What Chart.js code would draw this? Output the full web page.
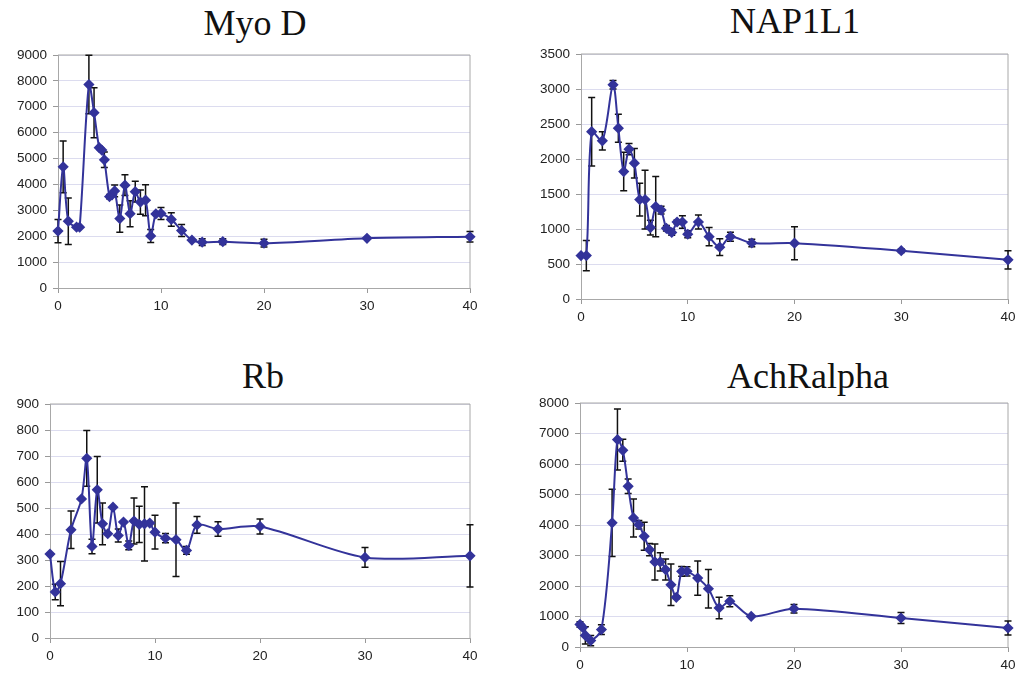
<!DOCTYPE html>
<html lang="en">
<head>
<meta charset="UTF-8" />
<title>Myo D, NAP1L1, Rb, AchRalpha</title>
<script src="https://cdn.jsdelivr.net/npm/chart.js"></script>
<style>
  html, body { margin: 0; padding: 0; background: #fff; overflow: hidden; }
  body { width: 1017px; height: 677px; position: relative; }
  canvas { position: absolute; }
  .title {
    position: absolute; transform: translateX(-50%);
    font: 36px "Liberation Serif", "Times New Roman", serif;
    line-height: 36px; color: #111; white-space: nowrap;
  }
</style>
</head>
<body>

<div class="title" style="left:255px; top:5px">Myo D</div>
<div class="title" style="left:795px; top:3px">NAP1L1</div>
<div class="title" style="left:263px; top:358px">Rb</div>
<div class="title" style="left:808px; top:358px">AchRalpha</div>

<canvas id="myoChart" width="500" height="325" style="left:0; top:0"></canvas>
<canvas id="napChart" width="510" height="335" style="left:520px; top:0"></canvas>
<canvas id="rbChart" width="500" height="330" style="left:0; top:340px"></canvas>
<canvas id="achChart" width="510" height="337" style="left:520px; top:340px"></canvas>

<script>
// ---- data ----
const xTicks = [0, 10, 20, 30, 40];

const myoTime  = [0, 0.5, 1, 1.8, 2.1, 3, 3.5, 4, 4.25, 4.5, 5, 5.25, 5.5, 6, 6.5, 7, 7.5, 8, 8.5, 9, 9.5, 10, 11, 12, 13, 14, 16, 20, 30, 40];
const myoValue = [2200, 4680, 2580, 2350, 2350, 7860, 6770, 5420, 5330, 4950, 3530, 3600, 3750, 2680, 3970, 2870, 3720, 3320, 3390, 2010, 2860, 2880, 2650, 2220, 1850, 1770, 1790, 1730, 1920, 1980];
const myoError = [450, 1000, 900, 0, 0, 1130, 965, 0, 0, 300, 80, 0, 230, 530, 400, 500, 400, 470, 600, 250, 0, 230, 260, 230, 0, 130, 110, 150, 0, 200];

const napTime  = [0, 0.5, 1, 2, 3, 3.5, 4, 4.5, 5, 5.5, 6, 6.5, 7, 7.5, 8, 8.5, 9, 9.5, 10, 11, 12, 13, 14, 16, 20, 30, 40];
const napValue = [620, 620, 2390, 2260, 3060, 2440, 1820, 2140, 1940, 1420, 1420, 1020, 1320, 1270, 1010, 950, 1100, 1100, 925, 1100, 890, 740, 890, 800, 797, 690, 560];
const napError = [0, 215, 490, 130, 60, 200, 275, 80, 210, 235, 420, 105, 430, 55, 40, 40, 30, 90, 50, 100, 130, 120, 65, 55, 235, 25, 130];

const rbTime  = [0, 0.5, 1, 2, 3, 3.5, 4, 4.5, 5, 5.5, 6, 6.5, 7, 7.5, 8, 8.5, 9, 9.5, 10, 11, 12, 13, 14, 16, 20, 30, 40];
const rbValue = [323, 177, 209, 416, 535, 691, 352, 570, 439, 401, 503, 394, 446, 356, 450, 437, 439, 442, 407, 384, 378, 337, 435, 419, 429, 310, 316];
const rbError = [0, 30, 85, 72, 0, 107, 28, 128, 80, 0, 0, 25, 0, 17, 88, 70, 143, 0, 65, 18, 141, 15, 32, 28, 29, 38, 120];

const achTime  = [0, 0.25, 0.5, 1, 2, 3, 3.5, 4, 4.5, 5, 5.5, 6, 6.5, 7, 7.5, 8, 8.5, 9, 9.5, 10, 11, 12, 13, 14, 16, 20, 30, 40];
const achValue = [740, 640, 380, 210, 570, 4070, 6800, 6450, 5270, 4230, 4010, 3630, 3190, 2790, 2790, 2540, 2040, 1630, 2480, 2480, 2260, 1910, 1280, 1500, 1005, 1256, 951, 623];
const achError = [90, 0, 280, 170, 160, 1100, 1000, 360, 240, 620, 140, 460, 200, 590, 300, 345, 680, 50, 160, 150, 560, 630, 350, 180, 0, 140, 180, 230];

Chart.defaults.font.family = '"Liberation Sans", Arial, sans-serif';
Chart.defaults.font.size = 13.5;
Chart.defaults.color = '#222';

// black error bars with caps
const errorBars = {
  id: 'errorBars',
  beforeDatasetsDraw(chart, args, opts) {
    const { ctx, scales: { x, y } } = chart;
    const pts = chart.data.datasets[0].data;
    ctx.save();
    ctx.strokeStyle = '#111';
    ctx.lineWidth = 1.5;
    pts.forEach((p, i) => {
      const e = opts.errors[i];
      if (!e) return;
      const px = x.getPixelForValue(p.x);
      const top = y.getPixelForValue(p.y + e);
      const bot = y.getPixelForValue(p.y - e);
      ctx.beginPath();
      ctx.moveTo(px, top); ctx.lineTo(px, bot);
      ctx.moveTo(px - 3.5, top); ctx.lineTo(px + 3.5, top);
      ctx.moveTo(px - 3.5, bot); ctx.lineTo(px + 3.5, bot);
      ctx.stroke();
    });
    ctx.restore();
  }
};

// grey plot-area frame (top and right sides)
const plotFrame = {
  id: 'plotFrame',
  beforeDatasetsDraw(chart) {
    const { ctx, chartArea: a } = chart;
    ctx.save();
    ctx.strokeStyle = '#a8a8a8';
    ctx.lineWidth = 1;
    ctx.beginPath();
    ctx.moveTo(a.left, a.top); ctx.lineTo(a.right, a.top); ctx.lineTo(a.right, a.bottom);
    ctx.stroke();
    ctx.restore();
  }
};

function makeChart(id, times, values, errors, yMax, yStep, box) {
  new Chart(document.getElementById(id), {
    type: 'line',
    data: {
      datasets: [{
        data: times.map((t, i) => ({ x: t, y: values[i] })),
        borderColor: '#33339a',
        backgroundColor: '#33339a',
        borderWidth: 2,
        tension: 0.3,
        pointStyle: 'rectRot',
        pointRadius: 4.2,
        clip: false
      }]
    },
    options: {
      responsive: false,
      animation: false,
      layout: { padding: { top: box.top, right: box.right, left: 0, bottom: 0 } },
      plugins: {
        legend: { display: false },
        tooltip: { enabled: false },
        errorBars: { errors: errors }
      },
      scales: {
        x: {
          type: 'linear', min: 0, max: 40,
          afterBuildTicks: s => { s.ticks = xTicks.map(v => ({ value: v })); },
          afterFit: s => { s.height = box.xh; },
          grid: { drawOnChartArea: false, tickColor: '#999', tickLength: 5 },
          border: { color: '#a8a8a8' },
          ticks: { padding: 5 }
        },
        y: {
          min: 0, max: yMax,
          afterFit: s => { s.width = box.yw; },
          grid: { color: '#dcdcef', tickColor: '#999', tickLength: 5 },
          border: { color: '#a8a8a8' },
          ticks: { stepSize: yStep, padding: 6, format: { useGrouping: false } }
        }
      }
    },
    plugins: [plotFrame, errorBars]
  });
}

makeChart('myoChart', myoTime, myoValue, myoError, 9000, 1000, { top: 55, right: 30, yw: 58, xh: 37 });
makeChart('napChart', napTime, napValue, napError, 3500, 500, { top: 54, right: 22, yw: 61, xh: 36 });
makeChart('rbChart', rbTime, rbValue, rbError, 900, 100, { top: 64, right: 30, yw: 50, xh: 32 });
makeChart('achChart', achTime, achValue, achError, 8000, 1000, { top: 63, right: 22, yw: 60, xh: 30 });
</script>
</body>
</html>
